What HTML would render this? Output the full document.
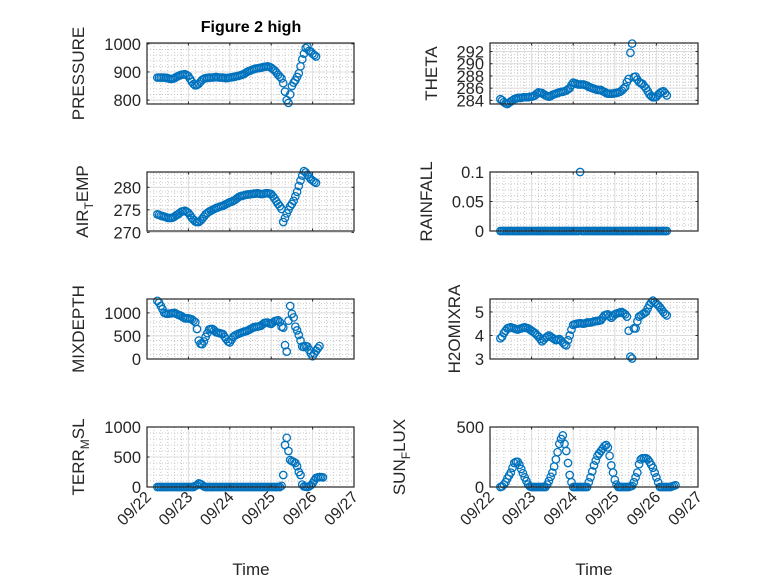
<!DOCTYPE html>
<html><head><meta charset="utf-8"><style>
html,body{margin:0;padding:0;background:#fff;}
svg{display:block;font-family:"Liberation Sans",sans-serif;}
</style></head><body>
<svg id="fig" width="778" height="583" viewBox="0 0 778 583" xmlns="http://www.w3.org/2000/svg">
<rect width="778" height="583" fill="#fff"/>
<text x="251" y="32" font-size="16" font-weight="bold" text-anchor="middle" fill="#000">Figure 2 high</text>
<text x="251" y="575" font-size="17" text-anchor="middle" fill="#262626">Time</text>
<text x="594" y="575" font-size="17" text-anchor="middle" fill="#262626">Time</text>
</svg>
<script>
// hourly samples; time (days since 09/22 00:00) = 0.25 + index/24
const xTickLabels = ["09/22","09/23","09/24","09/25","09/26","09/27"];
const pressure = [880,880,880,880,880,879,878,876,875,876,878,882,
885,888,890,891,892,889,885,875,865,857,852,854,
858,865,872,876,878,879,880,880,880,881,882,881,
880,880,880,879,878,879,880,881,882,883,885,886,
888,890,892,896,900,903,905,908,910,912,913,914,
915,917,918,919,920,918,915,910,905,898,890,883,
877,860,830,800,790,820,850,862,870,882,895,920,
945,965,985,990,975,972,965,960,955];
const airTemp = [274.0,273.9,273.7,273.6,273.5,273.4,273.2,273.2,273.2,273.3,273.5,273.8,
274.0,274.3,274.6,274.7,274.8,274.6,274.3,273.8,273.2,272.8,272.4,272.3,
272.3,272.6,273.0,273.5,274.0,274.3,274.6,274.8,275.0,275.2,275.4,275.5,
275.7,275.8,275.9,276.1,276.3,276.5,276.7,276.8,277.0,277.2,277.5,277.8,
278.0,278.1,278.2,278.3,278.4,278.4,278.5,278.5,278.6,278.6,278.7,278.6,
278.5,278.5,278.6,278.7,278.7,278.6,278.5,278.0,277.5,276.9,276.3,275.8,
275.2,272.3,273.2,274.2,275.0,275.8,276.3,277.0,278.0,279.0,280.3,281.5,
282.6,283.6,283.3,282.8,282.3,281.8,281.5,281.2,281.0];
const theta = [284.2,284.0,283.7,283.5,283.4,283.6,283.8,284.0,284.2,284.3,284.4,284.4,
284.4,284.5,284.5,284.5,284.5,284.6,284.6,284.7,284.8,285.1,285.3,285.2,
285.2,285.0,284.8,284.7,284.6,284.7,284.9,285.0,285.1,285.2,285.3,285.4,
285.4,285.5,285.6,285.8,286.0,286.5,286.9,286.8,286.7,286.6,286.6,286.6,
286.6,286.5,286.4,286.2,286.1,286.0,285.9,285.8,285.7,285.7,285.7,285.5,
285.4,285.2,285.1,285.1,285.1,285.1,285.2,285.2,285.3,285.4,285.6,285.9,
286.2,287.0,287.5,291.8,293.3,287.8,287.9,287.4,287.0,286.8,286.7,286.3,
286.0,285.5,285.0,284.7,284.5,284.5,284.6,284.9,285.2,285.4,285.5,285.2,
284.8];
const rainfall = [0,0,0,0,0,0,0,0,0,0,0,0,
0,0,0,0,0,0,0,0,0,0,0,0,
0,0,0,0,0,0,0,0,0,0,0,0,
0,0,0,0,0,0,0,0,0,0,0.1,0,
0,0,0,0,0,0,0,0,0,0,0,0,
0,0,0,0,0,0,0,0,0,0,0,0,
0,0,0,0,0,0,0,0,0,0,0,0,
0,0,0,0,0,0,0,0,0,0,0,0,
0];
const rainfallBase = [0];
const mixDepth = [1260,1220,1150,1080,1000,985,980,985,990,995,1000,980,
960,945,930,900,880,880,880,870,860,830,800,650,
400,330,320,380,480,560,640,650,650,620,580,570,
560,550,540,480,430,380,360,420,480,510,530,545,
560,575,590,600,610,630,650,670,690,695,700,710,
720,750,780,790,790,770,760,790,820,830,840,800,
700,680,300,160,830,1150,980,900,700,620,520,400,
270,260,280,270,200,120,60,120,180,230,280];
const h2oMix = [3.88,3.95,4.1,4.2,4.3,4.33,4.35,4.32,4.3,4.27,4.25,4.28,
4.3,4.33,4.35,4.32,4.3,4.25,4.2,4.15,4.1,4.02,3.95,3.85,
3.75,3.82,3.9,3.95,4.0,3.95,3.9,3.85,3.8,3.82,3.85,3.78,
3.7,3.62,3.58,3.8,4.0,4.25,4.45,4.48,4.5,4.51,4.52,4.51,
4.5,4.52,4.55,4.55,4.55,4.57,4.6,4.61,4.62,4.63,4.65,4.75,
4.85,4.88,4.9,4.82,4.75,4.82,4.9,4.93,4.95,4.98,5.0,4.95,
4.9,4.8,4.2,3.1,3.02,4.3,4.3,4.6,4.8,4.85,4.9,4.95,
5.0,5.15,5.3,5.4,5.48,5.42,5.35,5.28,5.2,5.1,5.0,4.92,
4.85];
const terrMsl = [0,0,0,0,0,0,0,0,0,0,0,0,
0,0,0,0,0,0,0,0,0,0,20,30,
60,50,30,10,0,0,0,0,0,0,0,0,
0,0,0,0,0,0,0,0,0,0,0,0,
0,0,0,0,0,0,0,0,0,0,0,0,
0,0,0,0,0,0,0,0,0,0,0,0,
20,200,700,820,600,450,430,420,400,345,250,200,
40,10,5,0,10,30,60,110,150,160,165,165,
160];
const sunFlux = [0,5,20,40,70,95,120,160,200,210,210,185,
150,115,80,50,20,5,0,0,0,0,0,0,
0,0,0,20,50,85,120,170,230,290,360,400,
430,360,300,200,100,40,0,0,0,0,0,0,
0,0,0,40,80,130,180,220,260,280,300,320,
340,350,330,260,180,120,60,20,0,0,0,0,
0,0,0,5,10,40,80,120,190,230,240,240,
240,230,210,185,160,120,80,40,0,0,0,0,
0,0,0,5,10,15];
const pressureTicks = [800,900,1000];
const airTempTicks = [270,275,280];
const thetaTicks = [284,286,288,290,292];
const rainTicks = [0,0.05,0.1];
const rainTickLabels = ["0","0.05","0.1"];
const mixTicks = [0,500,1000];
const h2oTicks = [3,4,5];
const terrTicks = [0,500,1000];
const sunTicks = [0,500];

const NS = "http://www.w3.org/2000/svg";
const svg = document.getElementById("fig");
function mk(tag, attrs, parent) {
  const e = document.createElementNS(NS, tag);
  for (const k in attrs) e.setAttribute(k, attrs[k]);
  (parent || svg).appendChild(e);
  return e;
}
const timeOf = i => 0.25 + i / 24;
const panels = [
  {id:"pressure", x0:147,x1:354,y0:43,y1:104, ylim:[786,1003], ticks:pressureTicks, labels:null, minor:20, data:pressure, label:["PRESSURE"], lx:84, xt:false},
  {id:"theta", x0:490,x1:698,y0:43,y1:104, ylim:[283.4,293.4], ticks:thetaTicks, labels:null, minor:0.5, data:theta, label:["THETA"], lx:437, xt:false},
  {id:"air-temp", x0:147,x1:354,y0:172,y1:231, ylim:[270.3,283.4], ticks:airTempTicks, labels:null, minor:1, data:airTemp, label:["AIR","T","EMP"], lx:88, xt:false},
  {id:"rainfall", x0:490,x1:698,y0:172,y1:231, ylim:[0,0.1], ticks:rainTicks, labels:rainTickLabels, minor:0.01, data:rainfall, label:["RAINFALL"], lx:432, xt:false},
  {id:"mixdepth", x0:147,x1:354,y0:299,y1:359, ylim:[0,1300], ticks:mixTicks, labels:null, minor:100, data:mixDepth, label:["MIXDEPTH"], lx:84, xt:false},
  {id:"h2omixra", x0:490,x1:698,y0:299,y1:359, ylim:[3,5.55], ticks:h2oTicks, labels:null, minor:0.2, data:h2oMix, label:["H2OMIXRA"], lx:460, xt:false},
  {id:"terr-msl", x0:147,x1:354,y0:427,y1:487, ylim:[0,1000], ticks:terrTicks, labels:null, minor:100, data:terrMsl, label:["TERR","M","SL"], lx:84, xt:true},
  {id:"sun-flux", x0:490,x1:698,y0:427,y1:487, ylim:[0,500], ticks:sunTicks, labels:null, minor:100, data:sunFlux, label:["SUN","F","LUX"], lx:405, xt:true}
];
panels.forEach(p => {
  const g = mk("g", {});
  
  
  const xs = d => p.x0 + (p.x1 - p.x0) * d / 5;
  const ys = v => p.y1 - (p.y1 - p.y0) * (v - p.ylim[0]) / (p.ylim[1] - p.ylim[0]);
  for (let d = 0; d <= 5.0001; d += 1/6) {
    if (Math.abs(d - Math.round(d)) < 1e-6) continue;
    mk("line", {x1:xs(d),x2:xs(d),y1:p.y0,y2:p.y1,stroke:"#c8c8c8","stroke-width":1,"stroke-dasharray":"1 2"}, g);
  }
  const m0 = Math.ceil(p.ylim[0] / p.minor) * p.minor;
  for (let v = m0; v <= p.ylim[1] + 1e-9; v += p.minor) {
    mk("line", {x1:p.x0,x2:p.x1,y1:ys(v),y2:ys(v),stroke:"#c8c8c8","stroke-width":1,"stroke-dasharray":"1 2"}, g);
  }
  for (let d = 1; d < 5; d++) mk("line", {x1:xs(d),x2:xs(d),y1:p.y0,y2:p.y1,stroke:"#dcdcdc","stroke-width":1}, g);
  p.ticks.forEach(v => mk("line", {x1:p.x0,x2:p.x1,y1:ys(v),y2:ys(v),stroke:"#dcdcdc","stroke-width":1}, g));
  const dg = mk("g", {}, g);
  
  
  p.data.forEach((v, i) => {
    if (v === null) return;
    const c = mk("circle", {cx:xs(timeOf(i)).toFixed(2), cy:ys(v).toFixed(2), r:3.7, fill:"none", stroke:"#0072BD","stroke-width":1.3}, dg);
    
    
  });
  mk("rect", {x:p.x0,y:p.y0,width:p.x1-p.x0,height:p.y1-p.y0,fill:"none",stroke:"#262626","stroke-width":1.2}, g);
  for (let d = 0; d <= 5; d++) {
    mk("line", {x1:xs(d),x2:xs(d),y1:p.y1,y2:p.y1-2.5,stroke:"#262626"}, g);
    mk("line", {x1:xs(d),x2:xs(d),y1:p.y0,y2:p.y0+2.5,stroke:"#262626"}, g);
    if (p.xt) {
      const t = mk("text", {x:0,y:0,"font-size":16,fill:"#262626","text-anchor":"end",transform:`translate(${xs(d)+5},${p.y1+11}) rotate(-45)`}, g);
      t.textContent = xTickLabels[d];
      
      
    }
  }
  p.ticks.forEach((v, k) => {
    mk("line", {x1:p.x0,x2:p.x0+2.5,y1:ys(v),y2:ys(v),stroke:"#262626"}, g);
    mk("line", {x1:p.x1,x2:p.x1-2.5,y1:ys(v),y2:ys(v),stroke:"#262626"}, g);
    const t = mk("text", {x:p.x0-6,y:ys(v)+6,"font-size":16.5,fill:"#262626","text-anchor":"end"}, g);
    t.textContent = p.labels ? p.labels[k] : String(v);
    
    
  });
  const cy = (p.y0 + p.y1) / 2;
  const yl = mk("text", {x:0,y:0,"font-size":17,fill:"#262626","text-anchor":"middle",transform:`translate(${p.lx},${cy}) rotate(-90)`}, g);
  
  
  if (p.label.length === 1) yl.textContent = p.label[0];
  else {
    const a = mk("tspan", {}, yl); a.textContent = p.label[0];
    const b = mk("tspan", {dy:5,"font-size":12}, yl); b.textContent = p.label[1];
    const c = mk("tspan", {dy:-5}, yl); c.textContent = p.label[2];
  }
});
</script>
</body></html>
